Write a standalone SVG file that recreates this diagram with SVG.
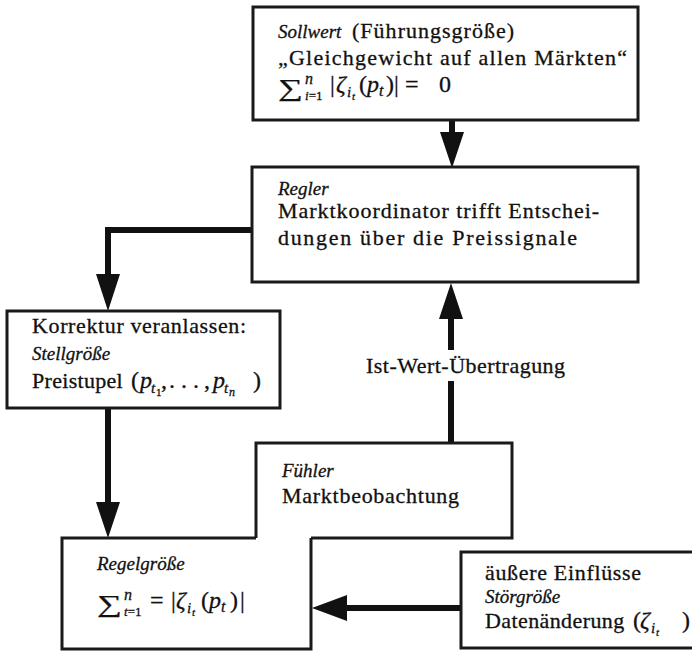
<svg xmlns="http://www.w3.org/2000/svg" width="692" height="651" viewBox="0 0 692 651" font-family="'Liberation Serif', 'Times New Roman', serif">
<style>
  .box { fill: #fff; stroke: #1a1a1a; stroke-width: 3; }
  .edge { fill: none; stroke: #1a1a1a; stroke-width: 3; }
  .wire { fill: none; stroke: #111; stroke-width: 6; }
  .head { fill: #111; stroke: none; }
  .t, .i, .m, .sum { font-family: 'Liberation Serif', 'Times New Roman', serif; fill: #111; stroke: #111; stroke-width: 0.3px; }
  .t { font-size: 22px; letter-spacing: 0.9px; }
  .i { font-size: 19px; font-style: italic; }
  .m { font-size: 24px; }
  .sum { font-size: 24px; }
  .mi { font-style: italic; }
</style>
<rect width="692" height="651" fill="#fff"/>

<g id="connectors">
  <line class="wire" x1="452" y1="120" x2="452" y2="134"/>
  <polygon class="head" points="440,132 464,132 452,168"/>
  <polyline class="wire" points="252,230 108,230 108,277"/>
  <polygon class="head" points="96,274 120,274 108,311"/>
  <line class="wire" x1="108" y1="408" x2="108" y2="504"/>
  <polygon class="head" points="96,502 120,502 108,538"/>
  <line class="wire" x1="451" y1="443" x2="451" y2="381"/>
  <line class="wire" x1="451" y1="350" x2="451" y2="317"/>
  <polygon class="head" points="439,319 463,319 451,283"/>
  <text class="t" x="366" y="373" textLength="200" lengthAdjust="spacing">Ist-Wert-Übertragung</text>
  <line class="wire" x1="461" y1="608" x2="345" y2="608"/>
  <polygon class="head" points="347,595 347,621 312,608"/>
</g>

<g id="sollwert">
  <rect class="box" x="253" y="7" width="385" height="113"/>
  <text class="i" x="278" y="38">Sollwert</text>
  <text class="t" x="352" y="38" textLength="163" lengthAdjust="spacing">(Führungsgröße)</text>
  <text class="t" x="278" y="65" textLength="350" lengthAdjust="spacing">„Gleichgewicht auf allen Märkten“</text>
  <text class="sum" transform="translate(278,96) scale(1.45,1)">∑</text>
  <text class="m" y="92"><tspan x="305" y="84" font-size="16" class="mi">n</tspan><tspan x="305" y="100" font-size="13" class="mi">i</tspan><tspan font-size="13" y="100">=1</tspan><tspan x="330" y="92">|</tspan><tspan x="336" class="mi">ζ</tspan><tspan x="347" class="mi" font-size="15" y="97">i</tspan><tspan x="352" class="mi" font-size="11" y="100">t</tspan><tspan x="359" y="92">(</tspan><tspan x="367" class="mi">p</tspan><tspan x="379" class="mi" font-size="16" y="96">t</tspan><tspan x="386" y="92">)</tspan><tspan x="394">|</tspan><tspan x="405">=</tspan><tspan x="439">0</tspan></text>
</g>

<g id="regler">
  <rect class="box" x="252" y="167" width="386" height="115"/>
  <text class="i" x="278" y="195">Regler</text>
  <text class="t" x="278" y="218" textLength="322" lengthAdjust="spacing">Marktkoordinator trifft Entschei-</text>
  <text class="t" x="278" y="245" textLength="300" lengthAdjust="spacing">dungen über die Preissignale</text>
</g>

<g id="korrektur">
  <rect class="box" x="7" y="311" width="273" height="97"/>
  <text class="t" x="32" y="333" textLength="215" lengthAdjust="spacing">Korrektur veranlassen:</text>
  <text class="i" x="32" y="360">Stellgröße</text>
  <text class="m" y="388"><tspan x="32" font-size="22" letter-spacing="0.3">Preistupel</tspan><tspan x="131">(</tspan><tspan x="140" class="mi">p</tspan><tspan x="151" class="mi" font-size="15" y="393">t</tspan><tspan x="156" font-size="11" y="396">1</tspan><tspan x="161" y="388">,</tspan><tspan x="169">. . .</tspan><tspan x="204">,</tspan><tspan x="213" class="mi">p</tspan><tspan x="224" class="mi" font-size="15" y="393">t</tspan><tspan x="229" class="mi" font-size="12" y="396">n</tspan><tspan x="253" y="388">)</tspan></text>
</g>

<g id="fuehler">
  <path class="edge" d="M256,538 V443 H512 V538 H311"/>
  <text class="i" x="282" y="477">Fühler</text>
  <text class="t" x="282" y="503" textLength="178" lengthAdjust="spacing">Marktbeobachtung</text>
</g>

<g id="regelgroesse">
  <path class="edge" d="M256,538 H62 V649 H311 V538"/>
  <text class="i" x="97" y="570">Regelgröße</text>
  <text class="sum" transform="translate(97,612) scale(1.45,1)">∑</text>
  <text class="m" y="608"><tspan x="124" y="600" font-size="16" class="mi">n</tspan><tspan x="124" y="616" font-size="13" class="mi">t</tspan><tspan font-size="13" y="616">=1</tspan><tspan x="150" y="608">=</tspan><tspan x="171">|</tspan><tspan x="176" class="mi">ζ</tspan><tspan x="187" class="mi" font-size="15" y="613">i</tspan><tspan x="192" class="mi" font-size="11" y="616">t</tspan><tspan x="201" y="608">(</tspan><tspan x="209" class="mi">p</tspan><tspan x="221" class="mi" font-size="16" y="612">t</tspan><tspan x="230" y="608">)</tspan><tspan x="240">|</tspan></text>
</g>

<g id="stoergroesse">
  <rect class="box" x="461" y="552" width="260" height="96"/>
  <text class="t" x="485" y="580" textLength="157" lengthAdjust="spacing">äußere Einflüsse</text>
  <text class="i" x="485" y="603">Störgröße</text>
  <text class="m" y="628"><tspan x="485" font-size="22" letter-spacing="0.4">Datenänderung</tspan><tspan x="633">(</tspan><tspan x="640" class="mi">ζ</tspan><tspan x="651" class="mi" font-size="15" y="633">i</tspan><tspan x="656" class="mi" font-size="11" y="636">t</tspan><tspan x="682" y="628">)</tspan></text>
</g>
</svg>
